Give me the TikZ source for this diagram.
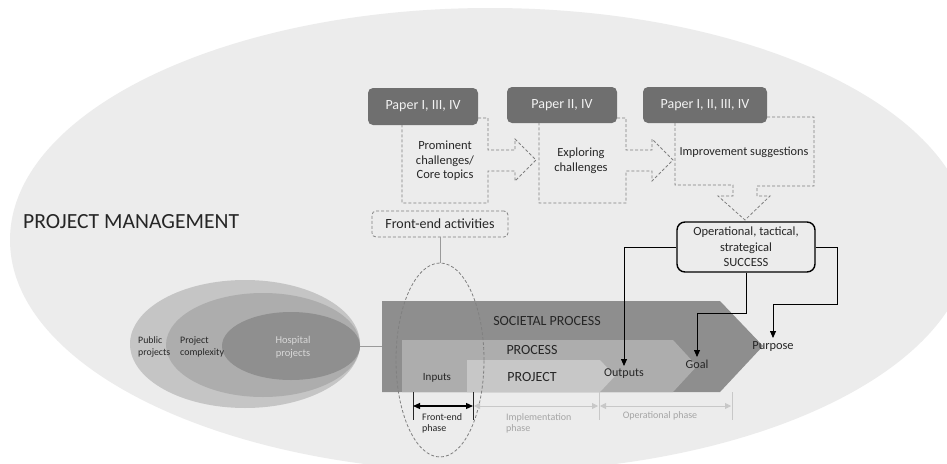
\documentclass[tikz,border=0pt]{standalone}
\usepackage{fontspec}
\setmainfont{Carlito}
\usetikzlibrary{arrows.meta,shapes.geometric}
\definecolor{bgell}{HTML}{ECECEC}
\definecolor{paperfill}{HTML}{6F6F6F}
\definecolor{papertext}{HTML}{F2F2F2}
\definecolor{socfill}{HTML}{8E8E8E}
\definecolor{procfill}{HTML}{ADADAD}
\definecolor{projfill}{HTML}{C7C7C7}
\definecolor{pubfill}{HTML}{C5C5C5}
\definecolor{cplxfill}{HTML}{ADADAD}
\definecolor{hospfill}{HTML}{8F8F8F}
\definecolor{hosptext}{HTML}{D8D8D8}
\definecolor{dashgray}{HTML}{808080}
\definecolor{lightline}{HTML}{C8C8C8}
\definecolor{phasetext}{HTML}{A5A5A5}
\definecolor{txtdark}{HTML}{262626}
\definecolor{linkgray}{HTML}{9A9A9A}
\tikzset{
  paperbox/.style={rectangle, rounded corners=5pt, fill=paperfill, text=papertext,
    font=\fontsize{14}{16}\selectfont, inner sep=0pt},
  dashshape/.style={draw=dashgray, dash pattern=on 3pt off 2pt, line width=0.8pt},
  txt/.style={text=txtdark, align=center, inner sep=0pt},
  conn/.style={-{Triangle[length=7pt,width=6pt]}, line width=0.8pt, black},
  ellnode/.style={ellipse, inner sep=0pt},
  grayarrow/.style={{Triangle[length=6pt,width=6pt]}-{Triangle[length=6pt,width=6pt]}, line width=0.8pt, draw=lightline},
  tick/.style={line width=0.8pt}
}
\begin{document}
\begin{tikzpicture}[x=1pt,y=-1pt]
\useasboundingbox (0,0) rectangle (947,463);
\fill[white] (0,0) rectangle (947,463);
\begin{scope}
\clip (0,0) rectangle (947,463);
\fill[bgell] (490,240) ellipse [x radius=480, y radius=232];
\end{scope}

% title
\node[txt, font=\fontsize{21.6}{25}\selectfont, anchor=west] (pm) at (23,222) {PROJECT MANAGEMENT};

% paper boxes
\node[paperbox, minimum width=110pt, minimum height=37pt] (p1) at (423,106.5) {Paper I, III, IV};
\node[paperbox, minimum width=110pt, minimum height=36pt] (p2) at (562,105) {Paper II, IV};
\node[paperbox, minimum width=124pt, minimum height=36pt] (p3) at (705,105) {Paper I, II, III, IV};

% dashed arrow shapes
\draw[dashshape] (478,118) -- (488,118) -- (488,150) -- (515,150) -- (515,139) -- (536,160)
  -- (515,181) -- (515,171) -- (488,171) -- (488,203) -- (402,203) -- (402,125);
\draw[dashshape] (617,118) -- (626,118) -- (626,150) -- (652,150) -- (652,139) -- (673,160)
  -- (652,181) -- (652,171) -- (626,171) -- (626,203) -- (539,203) -- (539,123);
\draw[dashshape] (767,117) -- (814,117) -- (814,186) -- (757,186) -- (757,196) -- (770,196)
  -- (745,220) -- (718,196) -- (733,196) -- (733,185) -- (675,185) -- (675,123);

\node[txt, font=\fontsize{12.5}{14.7}\selectfont] (t1) at (445,161) {Prominent\\challenges/\\Core topics};
\node[txt, font=\fontsize{12.5}{14.7}\selectfont] (t2) at (581,161) {Exploring\\challenges};
\node[txt, font=\fontsize{12.3}{14.7}\selectfont] (t3) at (744,152) {Improvement suggestions};

% success box
\node[draw=black, line width=1.4pt, rounded corners=8pt, minimum width=138pt, minimum height=50pt,
  txt, font=\fontsize{12.5}{15.5}\selectfont] (success) at (746,247) {Operational, tactical,\\strategical\\SUCCESS};

% front-end activities
\node[dashshape, rounded corners=4pt, minimum width=136pt, minimum height=26pt, txt,
  font=\fontsize{14}{16}\selectfont] (fea) at (440,224) {Front-end activities};

% nested ellipses
\node[ellnode, fill=pubfill, minimum width=230pt, minimum height=128pt] (pub) at (245,344) {};
\node[ellnode, fill=cplxfill, minimum width=194pt, minimum height=104pt] (cplx) at (263,345) {};
\node[ellnode, fill=hospfill, minimum width=138pt, minimum height=68pt] (hosp) at (291,346) {};
\node[txt, align=left, anchor=west, font=\fontsize{9.8}{12.5}\selectfont] (publbl) at (138,347) {Public\\projects};
\node[txt, align=left, anchor=west, font=\fontsize{9.9}{12.5}\selectfont] (cplxlbl) at (180,347) {Project\\complexity};
\node[txt, text=hosptext, font=\fontsize{10.5}{12.5}\selectfont] (hosplbl) at (293,347) {Hospital\\projects};

% process arrows
\fill[socfill] (382,301) -- (720,301) -- (763,346) -- (720,392) -- (382,392) -- cycle;
\fill[procfill] (402,340) -- (673,340) -- (697,366) -- (673,392) -- (402,392) -- cycle;
\fill[projfill] (467,360) -- (600,360) -- (615,376) -- (600,392) -- (467,392) -- cycle;
\coordinate (socleft) at (382,346);
\draw[linkgray, line width=0.8pt] (hosp.east) -- (socleft);

\node[txt, font=\fontsize{14}{16}\selectfont] (soclbl) at (547,321) {SOCIETAL PROCESS};
\node[txt, font=\fontsize{14}{16}\selectfont] (proclbl) at (532,350) {PROCESS};
\node[txt, font=\fontsize{14}{16}\selectfont] (projlbl) at (532,377) {PROJECT};
\node[txt, font=\fontsize{11}{13}\selectfont] (inputs) at (437,378) {Inputs};

% dashed ellipse
\node[ellnode, draw=dashgray, dash pattern=on 3pt off 2pt, line width=0.8pt,
  minimum width=88pt, minimum height=194pt] (dell) at (440,360) {};
\draw[linkgray, line width=0.8pt] (fea.south) -- (dell.north);

% outputs, goal, purpose
\node[txt, anchor=north, inner sep=3pt, font=\fontsize{12}{14}\selectfont] (outputs) at (624,366) {Outputs};
\node[txt, anchor=north, inner sep=3pt, font=\fontsize{12.2}{14}\selectfont] (goal) at (697,357) {Goal};
\node[txt, anchor=north, inner sep=3pt, font=\fontsize{12.4}{14}\selectfont] (purpose) at (773,338) {Purpose};

\coordinate (gbend) at (746,313);
\coordinate (pbend) at (837,304);
\draw[conn] (success.west) -| (outputs.north);
\draw[conn] (success.south) -- (gbend) -| (goal.north);
\draw[conn] (success.east) -| (pbend) -| (purpose.north);

% timeline
\coordinate (k1) at (413,406);
\coordinate (k2) at (473,406);
\coordinate (k3) at (599,406);
\coordinate (k4) at (732,406);
\draw[tick, txtdark] (413,392) -- (413,420);
\draw[tick, txtdark] (473,392) -- (473,420);
\draw[tick, lightline] (599,392) -- (599,420);
\draw[tick, lightline] (732,392) -- (732,420);
\draw[{Triangle[length=7pt,width=6pt]}-{Triangle[length=7pt,width=6pt]}, line width=1.2pt, black] (k1) -- (k2);
\draw[grayarrow] ([xshift=1pt]k2) -- ([xshift=-1pt]k3);
\draw[grayarrow] ([xshift=1pt]k3) -- ([xshift=-1pt]k4);

\node[txt, align=left, anchor=west, font=\fontsize{10}{11}\selectfont] (fep) at (422,423) {Front-end\\phase};
\node[txt, align=left, anchor=west, text=phasetext, font=\fontsize{10}{11}\selectfont] (imp) at (506,423) {Implementation\\phase};
\node[txt, text=phasetext, font=\fontsize{10}{11}\selectfont] (opp) at (660,416) {Operational phase};
\end{tikzpicture}
\end{document}
